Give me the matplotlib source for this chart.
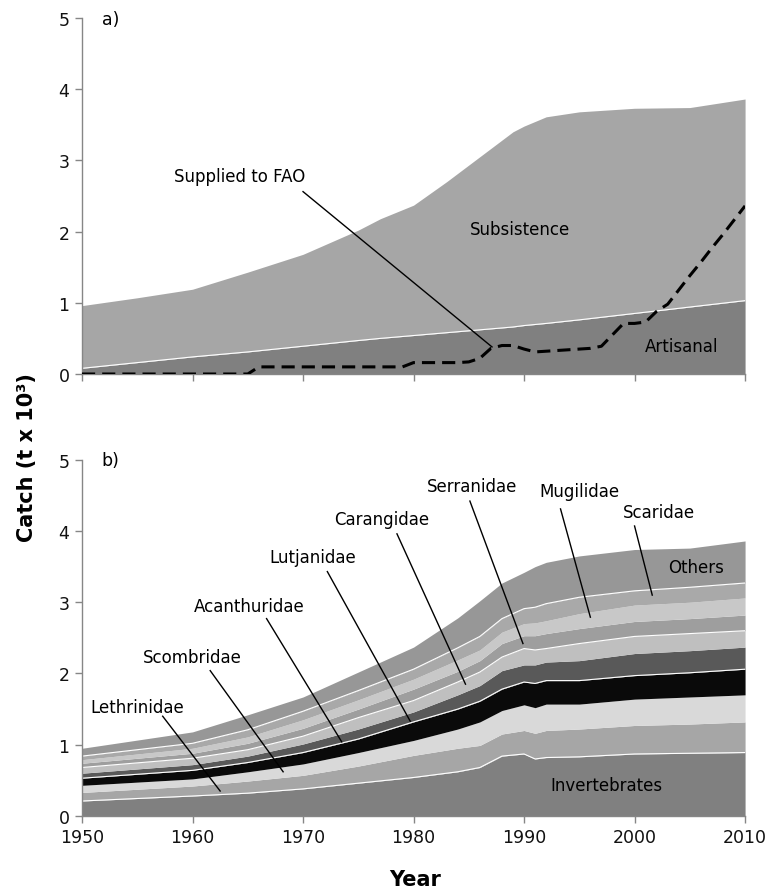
import matplotlib
matplotlib.use("Agg")
import matplotlib.pyplot as plt
import numpy as np

plt.rcParams['font.family'] = ['DejaVu Sans']

# ---------------- Panel a data ----------------
years_a = [1950, 1955, 1960, 1965, 1970, 1975, 1977, 1980, 1983, 1986, 1989, 1990, 1992, 1995, 2000, 2005, 2010]
artisanal = [0.08, 0.16, 0.24, 0.31, 0.39, 0.47, 0.50, 0.54, 0.58, 0.62, 0.66, 0.68, 0.71, 0.76, 0.85, 0.94, 1.03]
subsistence = [0.88, 0.91, 0.95, 1.12, 1.29, 1.55, 1.68, 1.83, 2.12, 2.43, 2.74, 2.80, 2.90, 2.92, 2.88, 2.80, 2.83]

years_fao = list(range(1950, 2011))
fao = ([0.0] * 16 +                       # 1950-1965
       [0.10] * 14 +                      # 1966-1979
       [0.16, 0.16, 0.16, 0.16, 0.16,     # 1980-1984
        0.17, 0.22, 0.36, 0.40, 0.40,     # 1985-1989
        0.35, 0.31, 0.32, 0.33, 0.34,     # 1990-1994
        0.35, 0.36, 0.39, 0.55, 0.71,     # 1995-1999
        0.71, 0.73, 0.88, 0.98, 1.18,     # 2000-2004
        1.38, 1.57, 1.77, 1.96, 2.16,     # 2005-2009
        2.36])                            # 2010

# ---------------- Panel b data ----------------
years_b = [1950, 1960, 1965, 1970, 1975, 1980, 1984, 1986, 1988, 1990, 1991, 1992, 1995, 2000, 2005, 2010]
invertebrates = [.21, .28, .32, .38, .46, .54, .62, .68, .84, .87, .80, .82, .83, .87, .88, .89]
lethrinidae   = [.12, .14, .17, .19, .24, .31, .33, .31, .31, .33, .36, .38, .39, .40, .41, .43]
scombridae    = [.10, .10, .13, .16, .19, .21, .27, .33, .33, .36, .36, .37, .35, .37, .38, .38]
acanthuridae  = [.10, .12, .13, .16, .19, .26, .28, .29, .30, .32, .34, .33, .33, .33, .34, .36]
lutjanidae    = [.07, .08, .09, .12, .14, .14, .20, .22, .26, .24, .26, .26, .28, .31, .31, .31]
carangidae    = [.08, .09, .09, .11, .16, .16, .18, .19, .19, .23, .21, .19, .24, .24, .24, .23]
serranidae    = [.06, .07, .09, .11, .12, .16, .15, .16, .19, .18, .20, .21, .21, .21, .21, .22]
mugilidae     = [.05, .07, .09, .12, .13, .14, .16, .15, .16, .17, .18, .18, .21, .23, .23, .24]
scaridae      = [.05, .07, .10, .12, .13, .14, .17, .19, .19, .21, .22, .24, .23, .20, .21, .21]
others        = [.11, .16, .21, .20, .26, .31, .42, .50, .50, .51, .57, .58, .58, .58, .55, .59]

layer_names = ['Invertebrates', 'Lethrinidae', 'Scombridae', 'Acanthuridae', 'Lutjanidae',
               'Carangidae', 'Serranidae', 'Mugilidae', 'Scaridae', 'Others']
layers = [invertebrates, lethrinidae, scombridae, acanthuridae, lutjanidae,
          carangidae, serranidae, mugilidae, scaridae, others]
layer_colors = ['#808080', '#a6a6a6', '#d9d9d9', '#0a0a0a', '#595959',
                '#bfbfbf', '#9e9e9e', '#c8c8c8', '#a9a9a9', '#979797']
white_top = [True, False, False, True, False, True, False, False, True, False]

x_ticks = [1950, 1960, 1970, 1980, 1990, 2000, 2010]
y_ticks = [0, 1, 2, 3, 4, 5]

# ---------------- Figure ----------------
fig = plt.figure(figsize=(7.81, 8.95), dpi=100)
axa = fig.add_axes([0.105, 0.581, 0.849, 0.398])
axb = fig.add_axes([0.105, 0.0872, 0.849, 0.398])

spine_col = '#868686'
for ax in (axa, axb):
    ax.set_xlim(1950, 2010)
    ax.set_ylim(0, 5)
    for s in ('top', 'right'):
        ax.spines[s].set_visible(False)
    for s in ('left', 'bottom'):
        ax.spines[s].set_color(spine_col)
        ax.spines[s].set_linewidth(1.0)
    ax.set_xticks(x_ticks)
    ax.set_yticks(y_ticks)
    ax.tick_params(direction='out', length=5, width=1, color=spine_col,
                   labelsize=12.5, labelcolor='#111111', pad=4)

axa.tick_params(axis='x', labelbottom=False)

# Panel a
ya = np.array(years_a)
art = np.array(artisanal)
sub = np.array(subsistence)
axa.fill_between(ya, 0, art, color='#808080', lw=0, zorder=1)
axa.fill_between(ya, art, art + sub, color='#a6a6a6', lw=0, zorder=1)
axa.plot(ya, art, color='white', lw=0.8, zorder=2)
axa.plot(years_fao, fao, color='black', lw=2.2, dashes=(4.3, 2.3), zorder=3)

axa.text(1952.6, 4.99, 'a)', fontsize=12.5, ha='center', va='center')
axa.text(1964.3, 2.78, 'Supplied to FAO', fontsize=12, ha='center', va='center')
axa.plot([1970.0, 1987.1], [2.56, 0.38], color='black', lw=1.0, zorder=4)
axa.text(1989.6, 2.04, 'Subsistence', fontsize=12, ha='center', va='center')
axa.text(2004.3, 0.39, 'Artisanal', fontsize=12, ha='center', va='center')

# Panel b
yb = np.array(years_b)
base = np.zeros(len(years_b))
for vals, col, wt in zip(layers, layer_colors, white_top):
    top = base + np.array(vals)
    axb.fill_between(yb, base, top, color=col, lw=0, zorder=1)
    if wt:
        axb.plot(yb, top, color='white', lw=0.8, zorder=2)
    base = top

axb.text(1952.6, 5.0, 'b)', fontsize=12.5, ha='center', va='center')

labels_b = [
    ('Lethrinidae', (1955.0, 1.53), (1957.3, 1.40), (1962.5, 0.35)),
    ('Scombridae', (1960.0, 2.23), (1961.6, 2.04), (1968.2, 0.62)),
    ('Acanthuridae', (1965.1, 2.95), (1966.7, 2.77), (1973.5, 1.04)),
    ('Lutjanidae', (1970.9, 3.64), (1972.2, 3.43), (1979.7, 1.33)),
    ('Carangidae', (1977.1, 4.17), (1978.5, 3.96), (1984.7, 1.85)),
    ('Serranidae', (1985.3, 4.63), (1985.1, 4.42), (1989.9, 2.42)),
    ('Mugilidae', (1995.0, 4.56), (1993.3, 4.31), (1996.0, 2.79)),
    ('Scaridae', (2002.2, 4.26), (2000.0, 4.07), (2001.6, 3.10)),
]
for name, tpos, p0, p1 in labels_b:
    axb.text(tpos[0], tpos[1], name, fontsize=12, ha='center', va='center')
    axb.plot([p0[0], p1[0]], [p0[1], p1[1]], color='black', lw=1.0, zorder=4)

axb.text(2005.6, 3.50, 'Others', fontsize=12, ha='center', va='center')
axb.text(1997.5, 0.44, 'Invertebrates', fontsize=12, ha='center', va='center')

fig.text(27 / 781, 1 - 458 / 895, 'Catch (t x 10³)', rotation=90, fontsize=15,
         fontweight='bold', ha='center', va='center')
fig.text(415 / 781, 1 - 880 / 895, 'Year', fontsize=15, fontweight='bold',
         ha='center', va='center')

fig.savefig('out.png', dpi=100)
